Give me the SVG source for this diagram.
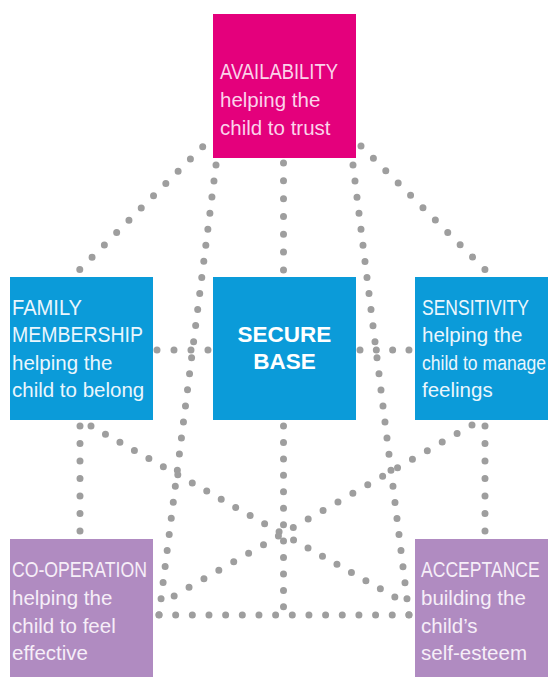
<svg xmlns="http://www.w3.org/2000/svg" width="548" height="677" viewBox="0 0 548 677">
<style>
.dot{fill:none;stroke:#9e9e9e;stroke-width:7;stroke-linecap:round}
.txt{font-family:"Liberation Sans",Arial,sans-serif;font-size:20.5px}
.cap{font-size:21.5px}
.pinkT{fill:#fbd3ea}
.blueT{fill:#eaf6fd}
.purpT{fill:#f6eef8}
.bold{font-family:"Liberation Sans",Arial,sans-serif;font-size:22.5px;font-weight:bold;fill:#ffffff;text-anchor:middle}
</style>
<rect x="0" y="0" width="548" height="677" fill="#ffffff"/>
<g id="connectors">
<line class="dot" x1="202.7" y1="146.7" x2="79.7" y2="269.5" stroke-dasharray="0 17.37"/>
<line class="dot" x1="361" y1="146" x2="485" y2="269.5" stroke-dasharray="0 17.49"/>
<line class="dot" x1="216" y1="165" x2="159" y2="615" stroke-dasharray="0 16.19"/>
<line class="dot" x1="353" y1="165" x2="409" y2="615" stroke-dasharray="0 16.19"/>
<line class="dot" x1="283.5" y1="163" x2="283.5" y2="270" stroke-dasharray="0 17.82"/>
<line class="dot" x1="283.5" y1="426" x2="283.5" y2="607" stroke-dasharray="0 16.44"/>
<line class="dot" x1="159" y1="615" x2="409" y2="615" stroke-dasharray="0 16.66"/>
<line class="dot" x1="157" y1="350" x2="208" y2="350" stroke-dasharray="0 16.99"/>
<line class="dot" x1="360" y1="350" x2="409" y2="350" stroke-dasharray="0 16.32"/>
<line class="dot" x1="80" y1="426" x2="80" y2="531" stroke-dasharray="0 17.49"/>
<line class="dot" x1="485" y1="426" x2="485" y2="531" stroke-dasharray="0 17.49"/>
<line class="dot" x1="91" y1="426" x2="395" y2="597" stroke-dasharray="0 16.60"/>
<line class="dot" x1="472" y1="425" x2="174" y2="596" stroke-dasharray="0 17.17"/>
</g>
<g id="availability">
<rect x="213" y="14" width="143" height="144" fill="#e4007c"/>
<text class="txt cap pinkT" x="220" y="79" textLength="118" lengthAdjust="spacingAndGlyphs">AVAILABILITY</text>
<text class="txt pinkT" x="220" y="107">helping the</text>
<text class="txt pinkT" x="220" y="135">child to trust</text>
</g>
<g id="family-membership">
<rect x="10" y="277" width="143" height="143" fill="#0b9bd9"/>
<text class="txt cap blueT" x="12" y="315" textLength="70" lengthAdjust="spacingAndGlyphs">FAMILY</text>
<text class="txt cap blueT" x="12" y="342" textLength="131" lengthAdjust="spacingAndGlyphs">MEMBERSHIP</text>
<text class="txt blueT" x="12" y="369.5">helping the</text>
<text class="txt blueT" x="12" y="397">child to belong</text>
</g>
<g id="secure-base">
<rect x="213" y="277" width="143" height="143" fill="#0b9bd9"/>
<text class="bold" x="284.5" y="342">SECURE</text>
<text class="bold" x="284.5" y="368.5">BASE</text>
</g>
<g id="sensitivity">
<rect x="415" y="277" width="133" height="143" fill="#0b9bd9"/>
<text class="txt cap blueT" transform="matrix(0.814 0 0 1 422 315)">SENSITIVITY</text>
<text class="txt blueT" x="422" y="342">helping the</text>
<text class="txt blueT" transform="matrix(0.857 0 0 1 422 369.5)">child to manage</text>
<text class="txt blueT" x="422" y="397">feelings</text>
</g>
<g id="co-operation">
<rect x="10" y="539" width="143" height="138" fill="#b08bc1"/>
<text class="txt cap purpT" x="12" y="577" textLength="135" lengthAdjust="spacingAndGlyphs">CO-OPERATION</text>
<text class="txt purpT" x="12" y="605">helping the</text>
<text class="txt purpT" x="12" y="633">child to feel</text>
<text class="txt purpT" x="12" y="660">effective</text>
</g>
<g id="acceptance">
<rect x="415" y="539" width="133" height="138" fill="#b08bc1"/>
<text class="txt cap purpT" transform="matrix(0.817 0 0 1 421 577)">ACCEPTANCE</text>
<text class="txt purpT" x="421" y="605">building the</text>
<text class="txt purpT" x="421" y="633">child’s</text>
<text class="txt purpT" x="421" y="660">self-esteem</text>
</g>
</svg>
